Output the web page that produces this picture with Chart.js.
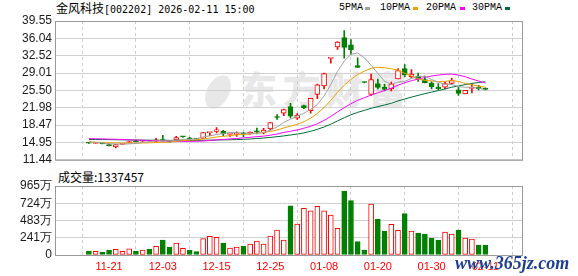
<!DOCTYPE html>
<html><head><meta charset="utf-8">
<script src="https://cdn.jsdelivr.net/npm/chart.js"></script>
<style>
html,body{margin:0;padding:0;background:#fff;}
#wrap{position:relative;width:578px;height:276px;overflow:hidden;font-family:"Liberation Sans",Arial,sans-serif;}
canvas{position:absolute;left:0;z-index:1;}
#c1{top:0;} #c2{top:170px;}
.t{position:absolute;white-space:nowrap;color:#000;line-height:1;}
.sw{position:absolute;width:5px;height:3px;}
#wm{position:absolute;left:240px;top:70px;font-family:"Noto Sans CJK SC";font-weight:900;font-size:37px;letter-spacing:6px;color:#e8e8e8;z-index:0;line-height:1;}
#logo{position:absolute;left:207px;top:74px;width:22px;height:36px;border-radius:50%;background:#e8e8e8;transform:rotate(28deg);z-index:0;}
#site{position:absolute;left:455px;top:253px;font-family:"Liberation Serif",serif;font-weight:bold;font-style:italic;font-size:18px;color:#1e3f8f;z-index:3;text-shadow:0 0 2px #fff;}
</style></head>
<body>
<div id="wrap">
  <div id="logo"></div>
  <div id="wm">东方财富</div>
  <div class="t" style="left:56px;top:2px;font-size:12px;"><span style="font-family:'Noto Sans CJK SC';">金风科技</span><span style="font-family:'DejaVu Sans Mono';font-size:10px;">[002202] 2026-02-11 15:00</span></div>
  <div class="t" style="left:339px;top:3px;font-family:'Liberation Mono';font-size:10px;">5PMA</div>
  <div class="sw" style="left:365px;top:7px;background:#a0a0a0;"></div>
  <div class="t" style="left:380px;top:3px;font-family:'Liberation Mono';font-size:10px;">10PMA</div>
  <div class="sw" style="left:413px;top:7px;background:#f0a000;"></div>
  <div class="t" style="left:426px;top:3px;font-family:'Liberation Mono';font-size:10px;">20PMA</div>
  <div class="sw" style="left:460px;top:7px;background:#ff00ff;"></div>
  <div class="t" style="left:472px;top:3px;font-family:'Liberation Mono';font-size:10px;">30PMA</div>
  <div class="sw" style="left:505px;top:7px;background:#006e3a;"></div>
  <div class="t" id="vt" style="left:58px;top:171px;font-size:12px;font-family:'Noto Sans CJK SC';"></div>
  <canvas id="c1" width="578" height="170"></canvas>
  <canvas id="c2" width="578" height="106"></canvas>
  <div id="site">www.365jz.com</div>
</div>
<script>
const dates = ['11-18','11-19','11-20','11-21','11-24','11-25','11-26','11-27','11-28','12-01','12-02','12-03','12-04','12-05','12-08','12-09','12-10','12-11','12-12','12-15','12-16','12-17','12-18','12-19','12-22','12-23','12-24','12-25','12-26','12-29','12-30','12-31','01-05','01-06','01-07','01-08','01-09','01-12','01-13','01-14','01-15','01-16','01-19','01-20','01-21','01-22','01-23','01-26','01-27','01-28','01-29','01-30','02-02','02-03','02-04','02-05','02-06','02-09','02-10','02-11'];
const opens  = [14.95,14.78,14.80,14.45,14.05,14.55,14.95,15.30,15.20,15.35,15.20,15.55,15.15,15.45,16.15,15.90,15.75,15.75,16.95,17.20,17.20,16.60,16.60,16.80,16.70,17.30,16.95,17.70,20.10,20.90,22.20,19.85,22.40,21.40,24.70,26.40,31.98,34.30,36.20,34.70,30.50,27.20,24.70,26.90,26.10,25.80,27.80,29.90,28.30,28.40,27.70,27.00,26.15,26.15,26.90,25.60,24.80,25.90,26.15,25.95];
const highs  = [15.00,14.90,14.85,14.50,14.55,14.80,15.25,15.45,15.40,15.40,15.80,16.40,15.20,16.20,16.15,16.00,15.80,17.00,17.00,17.95,17.40,16.75,17.10,17.00,17.10,17.85,17.80,19.05,20.60,21.70,22.90,20.80,22.50,23.90,26.80,29.00,32.00,35.40,37.60,35.80,32.10,27.25,28.80,27.80,26.80,27.20,29.90,30.70,29.70,29.00,28.40,27.30,26.90,27.30,28.00,26.10,25.50,26.70,26.50,26.00];
const lows   = [14.78,14.75,14.65,14.25,13.85,14.50,14.90,15.05,15.15,15.20,14.90,15.20,15.00,15.40,15.95,15.55,15.55,15.70,16.35,16.90,16.35,16.20,16.20,16.10,16.60,16.70,16.70,17.50,19.60,20.40,19.90,19.60,21.80,20.90,23.80,25.80,31.00,33.80,32.00,32.80,30.10,27.00,24.50,25.80,25.40,25.40,27.80,28.30,28.00,27.30,27.00,25.80,25.60,25.80,26.70,24.50,24.80,25.00,25.60,25.60];
const closes = [14.82,14.85,14.70,14.30,14.50,14.70,15.15,15.10,15.35,15.25,15.50,15.25,15.05,15.95,16.10,15.70,15.65,16.95,17.00,17.50,16.70,16.72,16.75,16.70,17.00,17.02,17.45,19.00,20.00,21.60,20.30,20.50,21.95,23.90,26.60,28.90,32.00,35.30,34.20,33.70,30.15,27.10,27.70,26.10,25.70,26.80,29.50,28.65,28.80,27.80,27.00,26.20,25.85,26.90,27.50,24.90,25.50,26.00,25.85,25.70];
// volume in 万 (10k shares)
const volumes = [56,52,42,70,80,52,88,56,70,84,121,210,112,168,93,70,47,228,261,247,168,98,112,126,154,196,154,266,350,210,686,434,653,616,681,616,560,373,895,760,186,70,713,504,336,429,345,578,336,308,294,238,210,322,294,350,238,224,140,133.7457];
const ma5  = [15.05,14.95,14.85,14.72,14.63,14.61,14.67,14.75,14.96,15.11,15.27,15.29,15.28,15.40,15.57,15.61,15.69,16.07,16.28,16.56,16.76,16.97,16.93,16.87,16.77,16.83,16.98,17.43,18.09,19.01,19.67,20.28,20.87,21.65,22.65,24.37,26.67,29.34,31.40,32.82,33.07,32.09,30.57,28.95,27.35,26.68,27.16,27.35,27.89,28.31,28.35,27.69,27.13,26.75,26.69,26.27,26.13,26.16,25.95,25.59];
const ma10 = [15.05,15.00,14.95,14.90,14.86,14.84,14.83,14.83,14.84,14.87,14.94,14.98,15.02,15.18,15.34,15.44,15.49,15.68,15.84,16.07,16.19,16.33,16.50,16.58,16.67,16.80,16.98,17.18,17.48,17.89,18.25,18.63,19.15,19.87,20.83,22.02,23.48,25.11,26.53,27.74,28.72,29.38,29.96,30.18,30.09,29.88,29.63,28.96,28.42,27.83,27.52,27.43,27.24,27.32,27.50,27.31,26.91,26.65,26.35,26.14];
const ma20 = [15.72,15.70,15.67,15.63,15.59,15.55,15.50,15.45,15.40,15.35,15.30,15.25,15.20,15.18,15.17,15.17,15.19,15.25,15.35,15.47,15.56,15.66,15.76,15.88,16.00,16.12,16.23,16.43,16.66,16.98,17.22,17.48,17.83,18.22,18.75,19.41,20.23,21.14,22.00,22.81,23.49,24.01,24.55,25.02,25.46,25.95,26.55,27.03,27.47,27.78,28.12,28.40,28.60,28.75,28.79,28.59,28.27,27.80,27.39,26.99];
const ma30 = [15.55,15.55,15.54,15.52,15.50,15.48,15.46,15.44,15.42,15.40,15.40,15.39,15.38,15.38,15.38,15.37,15.37,15.40,15.42,15.45,15.47,15.50,15.53,15.58,15.65,15.75,15.85,15.97,16.12,16.28,16.46,16.65,16.89,17.21,17.61,18.09,18.65,19.32,19.95,20.56,21.05,21.45,21.87,22.21,22.53,22.90,23.36,23.75,24.14,24.49,24.83,25.15,25.45,25.79,26.14,26.40,26.67,26.90,27.10,27.24];
const priceTicks = [11.44,14.95,18.47,21.98,25.50,29.01,32.52,36.04,39.55];
const volTicks = [0,241,483,724,965];
const xTickLabels = ['11-21','12-03','12-15','12-25','01-08','01-20','01-30','02-11'];

const RED = '#f00', GREEN = '#008000';
const idx = dates.map((d,i)=>i);
const tickIdx = xTickLabels.map(l=>dates.indexOf(l));
const up = closes.map((c,i)=>c>=opens[i]);
const volUp = closes.map((c,i)=> i===0 ? c>=opens[0] : c>=closes[i-1]);

document.getElementById('vt').textContent = '成交量:' + Math.round(volumes[volumes.length-1]*10000);

const frame = {
  id:'frame',
  beforeDatasetsDraw(chart){
    const a = chart.chartArea, ctx = chart.ctx;
    ctx.save(); ctx.strokeStyle = '#999'; ctx.lineWidth = 1;
    ctx.strokeRect(a.left+0.5, a.top+0.5, a.right-a.left-1, a.bottom-a.top);
    ctx.restore();
  }
};

const xBase = {
  type:'linear', min:-0.69, max:60.25,
  afterBuildTicks: s => { s.ticks = tickIdx.map(v=>({value:v})); },
  grid:{color:'#ccc', drawTicks:false, lineWidth:1},
  border:{display:false, dash:[3,3]}
};
const lineDs = (data,color) => ({type:'line', data: idx.map(i=>({x:i,y:data[i]})), borderColor:color, borderWidth:1, pointRadius:0, tension:0, order:0});

new Chart(document.getElementById('c1'), {
  data:{datasets:[
    lineDs(ma5,'#a0a0a0'), lineDs(ma10,'#f0a000'), lineDs(ma20,'#ff00ff'), lineDs(ma30,'#006e3a'),
    {type:'bar', data: idx.map(i=>({x:i,y:[opens[i],closes[i]]})), backgroundColor: up.map(u=>u?'#fff':GREEN), borderColor: up.map(u=>u?RED:GREEN), borderWidth:1, borderSkipped:false, barThickness:5, minBarLength:1, grouped:false, order:5},
    {type:'bar', data: idx.map(i=>({x:i,y:[lows[i],highs[i]]})), backgroundColor: up.map(u=>u?RED:GREEN), borderWidth:0, barThickness:1, grouped:false, order:6}
  ]},
  options:{
    responsive:false, animation:false, devicePixelRatio:1,
    layout:{padding:{left:0,right:55,top:21,bottom:5}},
    plugins:{legend:{display:false}, tooltip:{enabled:false}},
    scales:{
      x: Object.assign({}, xBase, {ticks:{display:false}, afterFit: s=>{s.height=0;}}),
      y:{min:11.44, max:39.55,
         afterBuildTicks: s => { s.ticks = priceTicks.map(v=>({value:v})); },
         ticks:{callback:v=>v.toFixed(2), color:'#1a1a1a', font:{size:12,family:'Liberation Sans'}, padding:3, autoSkip:false},
         grid:{color:'#d0d0d0', drawTicks:false}, border:{display:false},
         afterFit: s=>{s.width=55;}}
    }
  },
  plugins:[frame]
});

new Chart(document.getElementById('c2'), {
  data:{datasets:[
    {type:'bar', data: idx.map(i=>({x:i,y:volumes[i]})), backgroundColor: volUp.map(u=>u?'#fff':GREEN), borderColor: volUp.map(u=>u?RED:GREEN), borderWidth:1, borderSkipped:false, barThickness:5, grouped:false}
  ]},
  options:{
    responsive:false, animation:false, devicePixelRatio:1,
    layout:{padding:{left:0,right:55,top:16,bottom:0}},
    plugins:{legend:{display:false}, tooltip:{enabled:false}},
    scales:{
      x: Object.assign({}, xBase, {ticks:{callback:v=>dates[v], color:RED, font:{size:11,family:'Liberation Sans'}, padding:5, maxRotation:0, autoSkip:false}, afterFit: s=>{s.height=21;}}),
      y:{min:0, max:965,
         afterBuildTicks: s => { s.ticks = volTicks.map(v=>({value:v})); },
         ticks:{callback:v=> v===0 ? '0' : v+'万', color:'#1a1a1a', font:{size:12,family:'Liberation Sans'}, padding:3, autoSkip:false},
         grid:{color:'#d0d0d0', drawTicks:false}, border:{display:false},
         afterFit: s=>{s.width=55;}}
    }
  },
  plugins:[frame]
});
</script>
</body></html>
